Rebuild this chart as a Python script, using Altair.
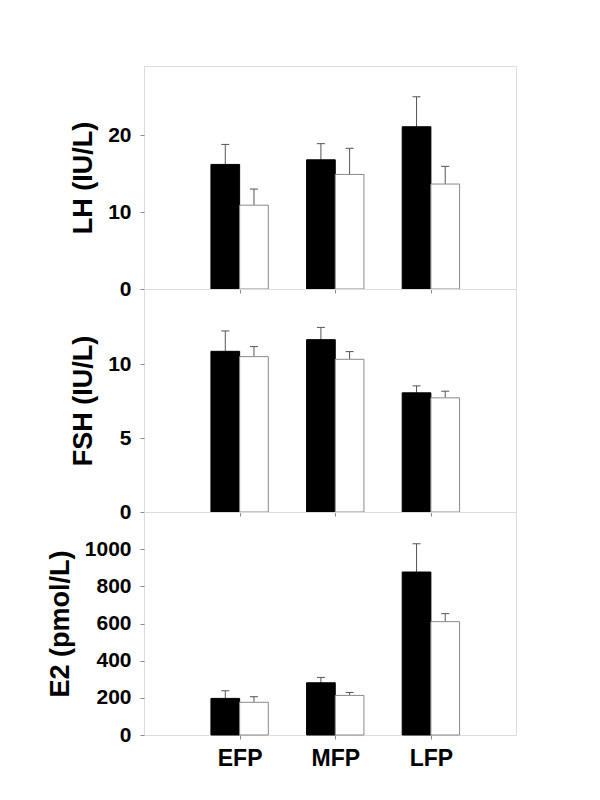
import altair as alt
import pandas as pd

phases = ["EFP", "MFP", "LFP"]
groups = ["Group 1", "Group 2"]

# LH (IU/L)
lh_g1 = [16.2, 16.8, 21.1]
lh_g1_se = [2.6, 2.1, 3.9]
lh_g2 = [10.9, 14.9, 13.65]
lh_g2_se = [2.1, 3.4, 2.3]

# FSH (IU/L)
fsh_g1 = [10.88, 11.67, 8.07]
fsh_g1_se = [1.38, 0.83, 0.47]
fsh_g2 = [10.52, 10.34, 7.73]
fsh_g2_se = [0.68, 0.52, 0.45]

# E2 (pmol/L)
e2_g1 = [197, 281, 877]
e2_g1_se = [41, 29, 152]
e2_g2 = [176, 213, 610]
e2_g2_se = [30, 16, 43]

BAR_W = 0.3
CAP_HALF = 0.042
X_MAX = 3.89
PANEL_W = 372
PANEL_H = 223
FONT = "Liberation Sans"
GRAY = "#8a8a8a"


def build_table(g1, g1_se, g2, g2_se):
    rows = []
    for i, ph in enumerate(phases):
        pos = i + 1
        for gname, m, e, off in [(groups[0], g1[i], g1_se[i], -1), (groups[1], g2[i], g2_se[i], 0)]:
            x0 = pos + off * BAR_W
            x1 = x0 + BAR_W
            xc = (x0 + x1) / 2
            rows.append(dict(phase=ph, group=gname, x0=x0, x1=x1, xc=xc,
                             c0=xc - CAP_HALF, c1=xc + CAP_HALF, mean=m, hi=m + e))
    return pd.DataFrame(rows)


label_expr = " : ".join(
    [f"datum.value == {i + 1} ? '{p}'" for i, p in enumerate(phases[:-1])] + [f"'{phases[-1]}'"]
)


def panel(title, g1, g1_se, g2, g2_se, ymax, yticks, bottom):
    df = build_table(g1, g1_se, g2, g2_se)
    xaxis = alt.Axis(values=[1, 2, 3], tickSize=4, tickColor=GRAY, domain=False, grid=False,
                     title=None, labels=bottom, labelExpr=label_expr,
                     labelFont=FONT, labelFontSize=23, labelFontWeight="bold",
                     labelColor="black", labelPadding=8)
    xs = alt.Scale(domain=[0, X_MAX], nice=False, zero=False)
    ys = alt.Scale(domain=[0, ymax], nice=False)
    yaxis = alt.Axis(values=yticks, tickSize=4, tickColor=GRAY, domain=False, grid=False,
                     format="d", labelFont=FONT, labelFontSize=21, labelFontWeight="bold",
                     labelColor="black", labelPadding=9,
                     titleFont=FONT, titleFontSize=27, titleFontWeight="bold",
                     titleColor="black", titlePadding=10)
    base = alt.Chart(df)
    bars = base.mark_bar(strokeWidth=1).encode(
        x=alt.X("x0:Q", scale=xs, axis=xaxis),
        x2="x1:Q",
        y=alt.Y("mean:Q", scale=ys, axis=yaxis, title=title),
        y2=alt.datum(0),
        fill=alt.Fill("group:N", scale=alt.Scale(domain=groups, range=["#000000", "#ffffff"]), legend=None),
        stroke=alt.Stroke("group:N", scale=alt.Scale(domain=groups, range=["#000000", GRAY]), legend=None),
    )
    err = base.mark_rule(color="#555555", strokeWidth=1).encode(
        x="xc:Q", y="mean:Q", y2="hi:Q"
    )
    cap = base.mark_rule(color="#555555", strokeWidth=1).encode(
        x="c0:Q", x2="c1:Q", y="hi:Q"
    )
    return alt.layer(err, cap, bars).properties(width=PANEL_W, height=PANEL_H)


p1 = panel("LH (IU/L)", lh_g1, lh_g1_se, lh_g2, lh_g2_se, 29, [0, 10, 20], False)
p2 = panel("FSH (IU/L)", fsh_g1, fsh_g1_se, fsh_g2, fsh_g2_se, 15.1, [0, 5, 10], False)
p3 = panel("E2 (pmol/L)", e2_g1, e2_g1_se, e2_g2, e2_g2_se, 1200, [0, 200, 400, 600, 800, 1000], True)

chart = alt.vconcat(p1, p2, p3, spacing=0, bounds="flush").properties(
    padding={"left": 37, "top": 57, "right": 10, "bottom": 10}
).configure_view(stroke=GRAY, strokeWidth=1).configure(background="white")

chart.save("out.html", embed_options={"renderer": "svg", "actions": False})
